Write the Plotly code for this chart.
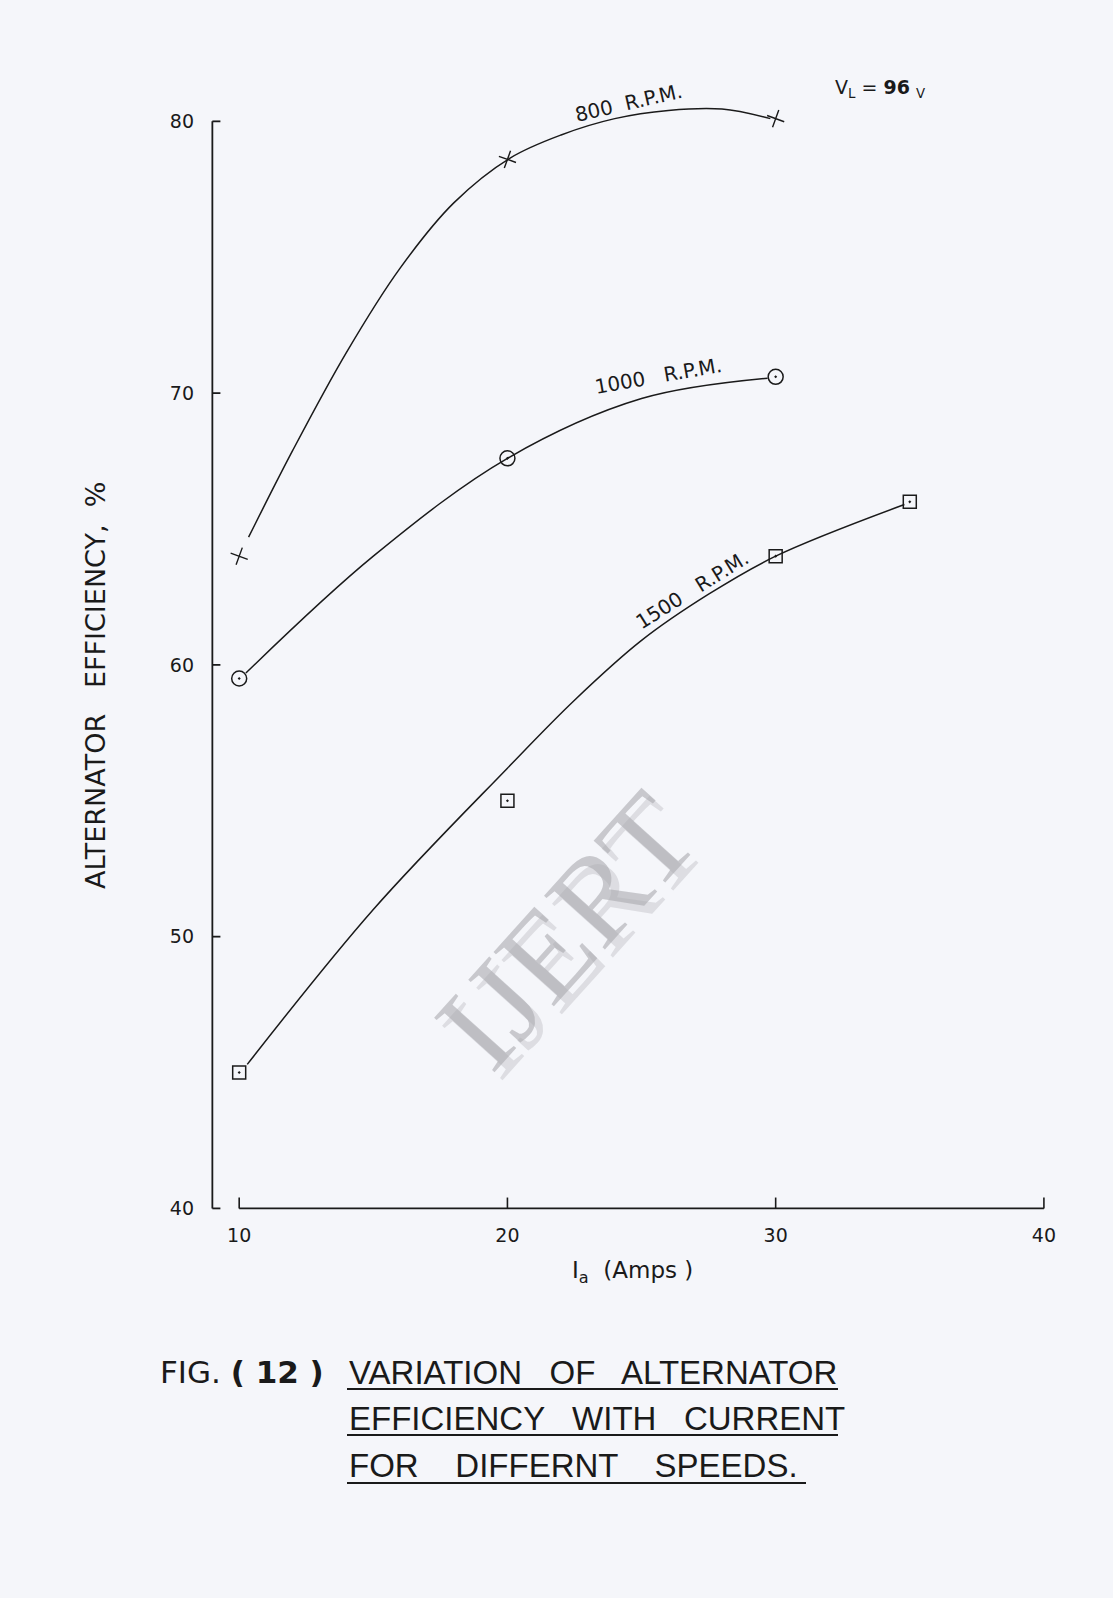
import plotly.graph_objects as go

# ---- data ----
current_800 = [10, 20, 30]
eff_800 = [64.0, 78.6, 80.1]
current_1000 = [10, 20, 30]
eff_1000 = [59.5, 67.6, 70.6]
current_1500 = [10, 20, 30, 35]
eff_1500 = [45.0, 55.0, 64.0, 66.0]

# hand-drawn smooth curves
curve_x_800 = [10.35, 12, 14, 16, 18, 20.1, 22, 24, 26, 28, 29.8]
curve_y_800 = [64.7, 67.9, 71.5, 74.6, 77.0, 78.65, 79.5, 80.1, 80.4, 80.45, 80.1]
curve_x_1000 = [10.25, 15, 20, 25, 29.7]
curve_y_1000 = [59.7, 64.0, 67.6, 69.8, 70.55]
curve_x_1500 = [10.3, 15, 20, 22.5, 25, 27.5, 30, 34.8]
curve_y_1500 = [45.3, 51.0, 56.2, 58.7, 60.9, 62.6, 64.0, 65.9]

x_ticks = [10, 20, 30, 40]
y_ticks = [40, 50, 60, 70, 80]

# ---- layout geometry (pixels) ----
W, H = 1113, 1598
L, T, PW, PH = 207, 67, 853, 1155
XR = [8.8, 40.6]
YR = [39.5, 82.0]
INK = "#1a1a1a"
BG = "#f5f6fa"
FONT = "DejaVu Sans"


def px(x, y):
    return (x - L) / PW, (T + PH - y) / PH


fig = go.Figure()

line_style = dict(color=INK, width=1.5, shape="spline", smoothing=1.0)
for cx, cy in [(curve_x_800, curve_y_800), (curve_x_1000, curve_y_1000),
               (curve_x_1500, curve_y_1500)]:
    fig.add_trace(go.Scatter(x=cx, y=cy, mode="lines", line=line_style,
                             hoverinfo="skip", showlegend=False))

fig.add_trace(go.Scatter(x=current_800, y=eff_800, mode="markers", name="800 R.P.M.",
                         marker=dict(symbol="cross-thin", size=13, angle=20,
                                     line=dict(color=INK, width=1.4)),
                         showlegend=False))
fig.add_trace(go.Scatter(x=current_1000, y=eff_1000, mode="markers", name="1000 R.P.M.",
                         marker=dict(symbol="circle-open-dot", size=15, color=INK,
                                     line=dict(color=INK, width=1.5)),
                         showlegend=False))
fig.add_trace(go.Scatter(x=current_1500, y=eff_1500, mode="markers", name="1500 R.P.M.",
                         marker=dict(symbol="square-open-dot", size=13, color=INK,
                                     line=dict(color=INK, width=1.5)),
                         showlegend=False))

shapes = []
# y axis line (does not meet x axis) and its inward ticks
shapes.append(dict(type="line", xref="x", yref="y", x0=9, x1=9, y0=40, y1=80,
                   line=dict(color=INK, width=1.8)))
for v in y_ticks:
    shapes.append(dict(type="line", xref="x", yref="y", x0=9, x1=9.3, y0=v, y1=v,
                       line=dict(color=INK, width=1.8)))
# x axis line from 10 to 40 with upward ticks
shapes.append(dict(type="line", xref="x", yref="y", x0=10, x1=40, y0=40, y1=40,
                   line=dict(color=INK, width=1.8)))
for v in x_ticks:
    shapes.append(dict(type="line", xref="x", yref="y", x0=v, x1=v, y0=40, y1=40.4,
                       line=dict(color=INK, width=1.6)))

# caption underlines
for y, x1 in [(1389, 838), (1435, 838), (1483, 806)]:
    a0 = px(347, y)
    a1 = px(x1, y)
    shapes.append(dict(type="line", xref="paper", yref="paper", x0=a0[0], x1=a1[0],
                       y0=a0[1], y1=a1[1], line=dict(color=INK, width=2.2)))

annotations = []


def add_text(text, x, y, size, anchor="center", angle=0, color=INK, family=FONT,
             yanchor="middle"):
    p = px(x, y)
    annotations.append(dict(text=text, x=p[0], y=p[1], xref="paper", yref="paper",
                            showarrow=False, xanchor=anchor, yanchor=yanchor,
                            textangle=angle, font=dict(size=size, color=color,
                                                       family=family)))


# watermark
add_text("IJERT", 574, 938, 124, angle=-48, color="rgba(200,200,205,0.55)",
         family="Liberation Serif")
add_text("IJERT", 566, 930, 124, angle=-48, color="rgba(170,170,175,0.6)",
         family="Liberation Serif")

# curve labels
add_text("800  R.P.M.", 628, 103, 20, angle=-13)
add_text("1000   R.P.M.", 658, 376, 20, angle=-10)
add_text("1500   R.P.M.", 692, 590, 20, angle=-32)
add_text("V<sub>L</sub> = <b>96</b> <sub>V</sub>", 880, 88, 19)

# axis titles
add_text("ALTERNATOR   EFFICIENCY,  %", 95, 685, 27, angle=-90)
add_text("I<sub>a</sub>  (Amps )", 632, 1272, 23)

# caption
add_text("FIG. <b>( 12 )</b>", 158, 1372, 31, anchor="left")
add_text("VARIATION   OF   ALTERNATOR", 347, 1372, 33, anchor="left",
         family="Liberation Sans")
add_text("EFFICIENCY   WITH   CURRENT", 347, 1418, 33, anchor="left",
         family="Liberation Sans")
add_text("FOR    DIFFERNT    SPEEDS.", 347, 1465, 33, anchor="left",
         family="Liberation Sans")

fig.update_layout(
    width=W, height=H,
    margin=dict(l=L, r=W - L - PW, t=T, b=H - T - PH),
    paper_bgcolor=BG, plot_bgcolor=BG,
    shapes=shapes, annotations=annotations,
    font=dict(family=FONT, color=INK),
    xaxis=dict(range=XR, showgrid=False, zeroline=False, showline=False,
               tickvals=x_ticks, ticktext=[str(v) for v in x_ticks], ticks="",
               tickfont=dict(size=19, family=FONT, color=INK)),
    yaxis=dict(range=YR, showgrid=False, zeroline=False, showline=False,
               tickvals=y_ticks, ticktext=[str(v) for v in y_ticks], ticks="",
               ticklabelstandoff=12,
               tickfont=dict(size=19, family=FONT, color=INK)),
)

fig.write_html("out.html", config={"displayModeBar": False},
               post_script="document.body.style.margin='0';document.body.style.overflow='hidden';")
